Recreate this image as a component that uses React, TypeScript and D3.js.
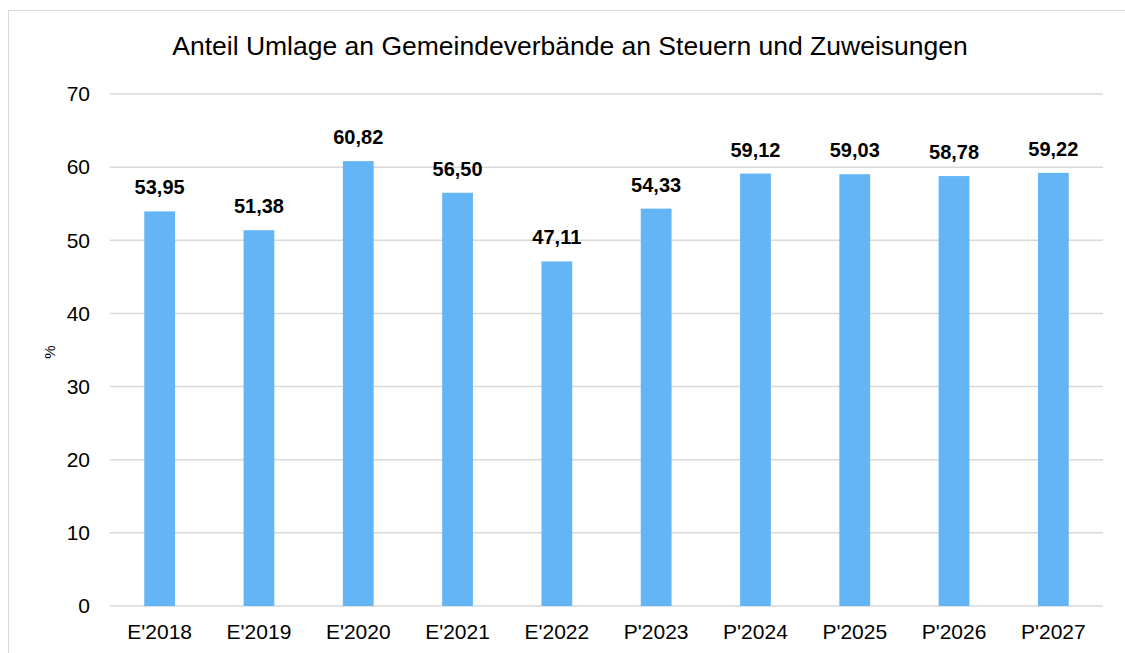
import { useEffect, useRef } from "react";
import * as d3 from "d3";

const categories = ["E'2018", "E'2019", "E'2020", "E'2021", "E'2022", "P'2023", "P'2024", "P'2025", "P'2026", "P'2027"];
const values = [53.95, 51.38, 60.82, 56.5, 47.11, 54.33, 59.12, 59.03, 58.78, 59.22];
const yTicks = [0, 10, 20, 30, 40, 50, 60, 70];

const title = "Anteil Umlage an Gemeindeverbände an Steuern und Zuweisungen";

export default function App() {
  const ref = useRef<SVGSVGElement>(null);

  useEffect(() => {
    const width = 1125;
    const height = 653;
    const svg = d3.select(ref.current).attr("width", width).attr("height", height);
    svg.selectAll("*").remove();

    const font = "Liberation Sans, Arial, sans-serif";

    // chart frame
    svg.append("rect")
      .attr("x", 8.5).attr("y", 10.5)
      .attr("width", 1130).attr("height", 660)
      .attr("fill", "white")
      .attr("stroke", "#d9d9d9")
      .attr("stroke-width", 1);

    const x = d3.scaleBand()
      .domain(categories)
      .range([110, 1103])
      .paddingInner(0.69)
      .paddingOuter(0.345);

    const y = d3.scaleLinear().domain([0, 70]).range([606, 94]);

    // gridlines
    svg.append("g")
      .selectAll("line")
      .data(yTicks)
      .join("line")
      .attr("x1", 110).attr("x2", 1103)
      .attr("y1", d => y(d)).attr("y2", d => y(d))
      .attr("stroke", "#d9d9d9")
      .attr("stroke-width", 1.5);

    // y tick labels
    svg.append("g")
      .selectAll("text")
      .data(yTicks)
      .join("text")
      .attr("x", 90)
      .attr("y", d => y(d))
      .attr("dy", "0.35em")
      .attr("text-anchor", "end")
      .attr("font-family", font)
      .attr("font-size", 21)
      .attr("fill", "#000")
      .text(d => d);

    // bars
    svg.append("g")
      .selectAll("rect")
      .data(values)
      .join("rect")
      .attr("x", (d, i) => x(categories[i])!)
      .attr("y", d => y(d))
      .attr("width", x.bandwidth())
      .attr("height", d => y(0) - y(d))
      .attr("fill", "#64b5f6");

    // value labels
    svg.append("g")
      .selectAll("text")
      .data(values)
      .join("text")
      .attr("x", (d, i) => x(categories[i])! + x.bandwidth() / 2)
      .attr("y", d => y(d) - 17)
      .attr("text-anchor", "middle")
      .attr("font-family", font)
      .attr("font-size", 20)
      .attr("font-weight", "bold")
      .attr("fill", "#000")
      .text(d => d3.format(".2f")(d).replace(".", ","));

    // x labels
    svg.append("g")
      .selectAll("text")
      .data(categories)
      .join("text")
      .attr("x", d => x(d)! + x.bandwidth() / 2)
      .attr("y", 639)
      .attr("text-anchor", "middle")
      .attr("font-family", font)
      .attr("font-size", 21)
      .attr("fill", "#000")
      .text(d => d);

    // y axis title
    svg.append("text")
      .attr("transform", "translate(55,352) rotate(-90)")
      .attr("text-anchor", "middle")
      .attr("font-family", font)
      .attr("font-size", 15)
      .attr("fill", "#000")
      .text("%");

    // chart title
    svg.append("text")
      .attr("x", 570)
      .attr("y", 55)
      .attr("text-anchor", "middle")
      .attr("font-family", font)
      .attr("font-size", 26.5)
      .attr("fill", "#000")
      .text(title);
  }, []);

  return <svg ref={ref} style={{ position: "absolute", left: 0, top: 0 }}></svg>;
}
